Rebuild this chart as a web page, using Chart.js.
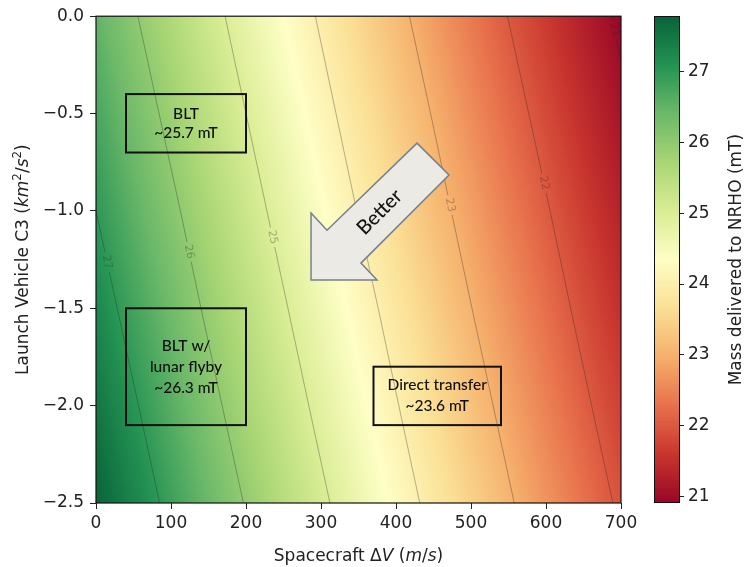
<!DOCTYPE html>
<html>
<head>
<meta charset="utf-8">
<script src="https://cdn.jsdelivr.net/npm/chart.js@4.4.1/dist/chart.umd.min.js"></script>
<style>
  html, body { margin: 0; padding: 0; background: #ffffff; }
  #wrap { width: 745px; height: 567px; }
</style>
</head>
<body>
<div id="wrap"><canvas id="c" width="745" height="567"></canvas></div>
<script>
// Spacecraft ΔV samples (m/s): grid columns
const deltaV = [0, 50, 100, 150, 200, 250, 300, 350, 400, 450, 500, 550, 600, 650, 700];
// Launch vehicle C3 samples (km^2/s^2): grid rows
const c3Values = [0, -0.5, -1.0, -1.5, -2.0, -2.5];

// Mass delivered to NRHO (mT), one list per C3 row
const massC3_0_0 = [26.50, 26.05, 25.62, 25.19, 24.76, 24.34, 23.94, 23.53, 23.14, 22.75, 22.37, 21.99, 21.63, 21.27, 20.91];
const massC3_0_5 = [26.75, 26.30, 25.86, 25.43, 25.00, 24.58, 24.16, 23.76, 23.36, 22.97, 22.58, 22.20, 21.83, 21.47, 21.11];
const massC3_1_0 = [27.00, 26.55, 26.11, 25.67, 25.24, 24.81, 24.39, 23.98, 23.58, 23.18, 22.80, 22.41, 22.04, 21.67, 21.31];
const massC3_1_5 = [27.26, 26.80, 26.36, 25.91, 25.48, 25.05, 24.63, 24.21, 23.81, 23.41, 23.01, 22.63, 22.25, 21.87, 21.51];
const massC3_2_0 = [27.52, 27.06, 26.61, 26.16, 25.72, 25.29, 24.86, 24.44, 24.03, 23.63, 23.23, 22.84, 22.46, 22.08, 21.71];
const massC3_2_5 = [27.78, 27.32, 26.86, 26.41, 25.97, 25.53, 25.10, 24.68, 24.26, 23.85, 23.45, 23.06, 22.67, 22.29, 21.92];

// Contour levels and tick labels
const contourLevels = [21, 22, 23, 24, 25, 26, 27];
const xTicks = [0, 100, 200, 300, 400, 500, 600, 700];
const yTicks = [0, -0.5, -1.0, -1.5, -2.0, -2.5];
const colorbarTicks = [21, 22, 23, 24, 25, 26, 27];

const massGrid = [massC3_0_0, massC3_0_5, massC3_1_0, massC3_1_5, massC3_2_0, massC3_2_5];
const allMass = massGrid.flat();
const vMin = Math.min(...allMass);
const vMax = Math.max(...allMass);

// RdYlGn colour map, slightly muted
const RDYLGN = ['#a50026', '#d73027', '#f46d43', '#fdae61', '#fee08b', '#ffffbf',
                '#d9ef8b', '#a6d96a', '#66bd63', '#1a9850', '#006837']
  .map(h => [parseInt(h.slice(1, 3), 16), parseInt(h.slice(3, 5), 16), parseInt(h.slice(5, 7), 16)]);
const MUTE = 0.12;

function cmap(t) {
  t = Math.max(0, Math.min(1, t));
  const s = t * (RDYLGN.length - 1);
  const i = Math.min(Math.floor(s), RDYLGN.length - 2);
  const f = s - i;
  const a = RDYLGN[i], b = RDYLGN[i + 1];
  const rgb = [a[0] + (b[0] - a[0]) * f, a[1] + (b[1] - a[1]) * f, a[2] + (b[2] - a[2]) * f];
  const lum = 0.299 * rgb[0] + 0.587 * rgb[1] + 0.114 * rgb[2];
  return rgb.map(c => c + (lum - c) * MUTE);
}

function locate(arr, v) {
  const n = arr.length;
  const asc = arr[n - 1] > arr[0];
  let i = 0;
  while (i < n - 2 && (asc ? v > arr[i + 1] : v < arr[i + 1])) i++;
  let f = (v - arr[i]) / (arr[i + 1] - arr[i]);
  return [i, Math.max(0, Math.min(1, f))];
}

// Contour path of one level: row crossings plus crossings on the left/right edges
function contourPath(level) {
  const pts = [];
  const last = deltaV.length - 1;
  for (let r = 0; r < c3Values.length; r++) {
    const row = massGrid[r];
    for (let j = 0; j < last; j++) {
      const a = row[j] - level, b = row[j + 1] - level;
      if (a * b <= 0 && row[j] !== row[j + 1]) {
        pts.push({ x: deltaV[j] + (level - row[j]) / (row[j + 1] - row[j]) * (deltaV[j + 1] - deltaV[j]), y: c3Values[r] });
        break;
      }
    }
    if (r < c3Values.length - 1) {
      for (const j of [0, last]) {
        const a = massGrid[r][j] - level, b = massGrid[r + 1][j] - level;
        if (a * b < 0) {
          pts.push({ x: deltaV[j], y: c3Values[r] + (level - massGrid[r][j]) / (massGrid[r + 1][j] - massGrid[r][j]) * (c3Values[r + 1] - c3Values[r]) });
        }
      }
    }
  }
  pts.sort((p, q) => q.y - p.y);
  return pts;
}

// Where each contour carries its inline label (C3 value along the line)
const contourLabelAt = { 21: -0.07, 22: -0.857, 23: -0.97, 24: -1.05, 25: -1.135, 26: -1.21, 27: -1.263 };
const CONTOUR_COLOR = 'rgba(35,35,35,0.33)';
const TICK_FONT = { family: 'DejaVu Sans', size: 17 };
const TEXT_COLOR = '#222222';

function computeContourLabels(chart) {
  const xs = chart.scales.x, ys = chart.scales.y;
  const ctx = chart.ctx;
  ctx.font = '11px "DejaVu Sans"';
  const out = [];
  chart.data.datasets.forEach(ds => {
    const level = ds.level;
    const target = contourLabelAt[level];
    const p = ds.data;
    for (let i = 0; i < p.length - 1; i++) {
      if ((p[i].y - target) * (p[i + 1].y - target) <= 0 && p[i].y !== p[i + 1].y) {
        const f = (target - p[i].y) / (p[i + 1].y - p[i].y);
        const x0 = xs.getPixelForValue(p[i].x), y0 = ys.getPixelForValue(p[i].y);
        const x1 = xs.getPixelForValue(p[i + 1].x), y1 = ys.getPixelForValue(p[i + 1].y);
        let ang = Math.atan2(y1 - y0, x1 - x0);
        if (ang > Math.PI / 2) ang -= Math.PI;
        if (ang <= -Math.PI / 2) ang += Math.PI;
        const text = String(level);
        out.push({ x: x0 + (x1 - x0) * f, y: y0 + (y1 - y0) * f, ang, text, w: ctx.measureText(text).width + 6, h: 10 });
        break;
      }
    }
  });
  chart.$contourLabels = out;
}

// Heat map and colour bar
const heatmapPlugin = {
  id: 'heatmap',
  beforeDatasetsDraw(chart) {
    const { ctx, chartArea: a, scales } = chart;
    const xs = scales.x, ys = scales.y, cb = scales.cb;
    const L = Math.round(a.left), T = Math.round(a.top);
    const W = Math.round(a.right) - L, H = Math.round(a.bottom) - T;
    const img = ctx.createImageData(W, H);
    const cols = [], rows = [];
    for (let i = 0; i < W; i++) cols.push(locate(deltaV, xs.getValueForPixel(L + i + 0.5)));
    for (let j = 0; j < H; j++) rows.push(locate(c3Values, ys.getValueForPixel(T + j + 0.5)));
    for (let j = 0; j < H; j++) {
      const [r, fy] = rows[j];
      const g0 = massGrid[r], g1 = massGrid[r + 1];
      for (let i = 0; i < W; i++) {
        const [c, fx] = cols[i];
        const top = g0[c] + (g0[c + 1] - g0[c]) * fx;
        const bot = g1[c] + (g1[c + 1] - g1[c]) * fx;
        const v = top + (bot - top) * fy;
        const col = cmap((v - vMin) / (vMax - vMin));
        const k = (j * W + i) * 4;
        img.data[k] = col[0]; img.data[k + 1] = col[1]; img.data[k + 2] = col[2]; img.data[k + 3] = 255;
      }
    }
    ctx.putImageData(img, L, T);

    // colour bar to the left of its axis
    const cTop = Math.round(cb.getPixelForValue(vMax));
    const cBot = Math.round(cb.getPixelForValue(vMin));
    const cRight = Math.round(cb.left), cLeft = cRight - 25;
    for (let py = cTop; py < cBot; py++) {
      const col = cmap((cb.getValueForPixel(py + 0.5) - vMin) / (vMax - vMin));
      ctx.fillStyle = `rgb(${col[0] | 0},${col[1] | 0},${col[2] | 0})`;
      ctx.fillRect(cLeft, py, 25, 1);
    }
    ctx.save();
    ctx.strokeStyle = '#111';
    ctx.lineWidth = 1;
    ctx.strokeRect(cLeft + 0.5, cTop + 0.5, 25, cBot - cTop - 1);
    ctx.restore();

    computeContourLabels(chart);
  }
};

// Break contour lines where their labels sit
const contourGapPlugin = {
  id: 'contourGaps',
  beforeDatasetDraw(chart) {
    const ctx = chart.ctx;
    ctx.save();
    ctx.beginPath();
    ctx.rect(0, 0, chart.width, chart.height);
    for (const lb of chart.$contourLabels || []) {
      const c = Math.cos(lb.ang), s = Math.sin(lb.ang);
      const hw = lb.w / 2, hh = lb.h / 2;
      const corners = [[-hw, -hh], [hw, -hh], [hw, hh], [-hw, hh]].map(([u, v]) => [lb.x + u * c - v * s, lb.y + u * s + v * c]);
      ctx.moveTo(corners[0][0], corners[0][1]);
      for (let k = 1; k < 4; k++) ctx.lineTo(corners[k][0], corners[k][1]);
      ctx.closePath();
    }
    ctx.clip('evenodd');
  },
  afterDatasetDraw(chart) {
    chart.ctx.restore();
  }
};

function drawRich(ctx, runs, size, family) {
  const parts = runs.map(r => {
    const s = r.sup ? size * 0.7 : size;
    const font = `${r.it ? 'italic ' : ''}${s}px "${family}"`;
    ctx.font = font;
    return Object.assign({}, r, { font, w: ctx.measureText(r.t).width });
  });
  const total = parts.reduce((acc, p) => acc + p.w, 0);
  let x = -total / 2;
  ctx.textAlign = 'left';
  ctx.textBaseline = 'alphabetic';
  for (const p of parts) {
    ctx.font = p.font;
    ctx.fillText(p.t, x, p.sup ? -size * 0.42 : 0);
    x += p.w;
  }
}

// Annotations: contour labels, boxes, arrow, frame and axis titles
const annotationPlugin = {
  id: 'annotations',
  afterDatasetsDraw(chart) {
    const { ctx, chartArea: a, scales } = chart;
    const xs = scales.x, ys = scales.y;
    const X = v => xs.getPixelForValue(v), Y = v => ys.getPixelForValue(v);

    ctx.save();
    // contour labels
    ctx.font = '11px "DejaVu Sans"';
    ctx.fillStyle = CONTOUR_COLOR;
    ctx.textAlign = 'center';
    ctx.textBaseline = 'middle';
    for (const lb of chart.$contourLabels || []) {
      ctx.save();
      ctx.beginPath();
      ctx.rect(a.left, a.top, a.right - a.left, a.bottom - a.top);
      ctx.clip();
      ctx.translate(lb.x, lb.y);
      ctx.rotate(lb.ang);
      ctx.fillText(lb.text, 0, 0);
      ctx.restore();
    }

    // labelled boxes
    const boxes = [
      { x0: 40, x1: 200, y0: -0.4, y1: -0.7, lines: ['BLT', '~25.7 mT'], lh: 19 },
      { x0: 40, x1: 200, y0: -1.5, y1: -2.1, lines: ['BLT w/', 'lunar flyby', '~26.3 mT'], lh: 21 },
      { x0: 370, x1: 540, y0: -1.8, y1: -2.1, lines: ['Direct transfer', '~23.6 mT'], lh: 21 }
    ];
    ctx.strokeStyle = '#111111';
    ctx.lineWidth = 2;
    ctx.fillStyle = '#0e0e0e';
    ctx.font = '500 15.5px Lato';
    ctx.textAlign = 'center';
    ctx.textBaseline = 'middle';
    for (const b of boxes) {
      const l = X(b.x0), r = X(b.x1), t = Y(b.y0), btm = Y(b.y1);
      ctx.strokeRect(l, t, r - l, btm - t);
      const cx = (l + r) / 2, cy = (t + btm) / 2;
      b.lines.forEach((s, k) => ctx.fillText(s, cx, cy + (k - (b.lines.length - 1) / 2) * b.lh));
    }

    // "Better" arrow
    const arrow = [[286.7, -1.011], [308, -1.099], [428, -0.652], [470.7, -0.816], [353.3, -1.268], [374.7, -1.355], [286.7, -1.355]];
    ctx.beginPath();
    arrow.forEach(([vx, vy], k) => (k ? ctx.lineTo(X(vx), Y(vy)) : ctx.moveTo(X(vx), Y(vy))));
    ctx.closePath();
    ctx.fillStyle = '#ebeae5';
    ctx.fill();
    ctx.strokeStyle = '#76818c';
    ctx.lineWidth = 1.5;
    ctx.lineJoin = 'miter';
    ctx.stroke();
    ctx.save();
    ctx.translate(X(378), Y(-1.006));
    ctx.rotate(-Math.PI / 4);
    ctx.fillStyle = '#141414';
    ctx.font = '500 20px Lato';
    ctx.textAlign = 'center';
    ctx.textBaseline = 'middle';
    ctx.fillText('Better', 0, 0);
    ctx.restore();

    // plot frame
    ctx.strokeStyle = '#111';
    ctx.lineWidth = 1.2;
    ctx.strokeRect(a.left, a.top, a.right - a.left, a.bottom - a.top);
    ctx.restore();
  },
  afterDraw(chart) {
    const { ctx, chartArea: a } = chart;
    ctx.save();
    ctx.fillStyle = TEXT_COLOR;
    // x-axis title
    ctx.save();
    ctx.translate((a.left + a.right) / 2, 561);
    drawRich(ctx, [{ t: 'Spacecraft ' }, { t: '\u0394' }, { t: 'V', it: true }, { t: ' (' }, { t: 'm', it: true }, { t: '/' }, { t: 's', it: true }, { t: ')' }], 17, 'DejaVu Sans');
    ctx.restore();
    // y-axis title
    ctx.save();
    ctx.translate(28, (a.top + a.bottom) / 2);
    ctx.rotate(-Math.PI / 2);
    drawRich(ctx, [{ t: 'Launch Vehicle C3 (' }, { t: 'km', it: true }, { t: '2', sup: true }, { t: '/' }, { t: 's', it: true }, { t: '2', sup: true }, { t: ')' }], 17, 'DejaVu Sans');
    ctx.restore();
    // colour bar title
    ctx.save();
    ctx.translate(741, (a.top + a.bottom) / 2);
    ctx.rotate(-Math.PI / 2);
    drawRich(ctx, [{ t: 'Mass delivered to NRHO (mT)' }], 17, 'DejaVu Sans');
    ctx.restore();
    ctx.restore();
  }
};

const fmtC3 = v => (v < 0 ? '\u2212' : '') + Math.abs(v).toFixed(1);

new Chart(document.getElementById('c'), {
  type: 'scatter',
  data: {
    datasets: contourLevels.map(level => ({
      label: String(level),
      level,
      data: contourPath(level),
      showLine: true,
      pointRadius: 0,
      borderWidth: 1,
      borderColor: CONTOUR_COLOR,
      tension: 0,
      xAxisID: 'x',
      yAxisID: 'y'
    }))
  },
  options: {
    responsive: false,
    animation: false,
    devicePixelRatio: 1,
    events: [],
    layout: { padding: { top: 16, left: 0, right: 0, bottom: 0 } },
    plugins: { legend: { display: false }, tooltip: { enabled: false } },
    scales: {
      x: {
        type: 'linear', position: 'bottom', min: 0, max: 700,
        afterBuildTicks: s => { s.ticks = xTicks.map(v => ({ value: v })); },
        afterFit: s => { s.height = 64; },
        grid: { drawOnChartArea: false, drawTicks: true, tickLength: 6, color: '#222', lineWidth: 1 },
        border: { display: false },
        ticks: { font: TICK_FONT, color: TEXT_COLOR, padding: 4, maxRotation: 0, autoSkip: false, callback: v => String(v) }
      },
      y: {
        type: 'linear', position: 'left', min: -2.5, max: 0,
        afterBuildTicks: s => { s.ticks = yTicks.map(v => ({ value: v })); },
        afterFit: s => { s.width = 96; },
        grid: { drawOnChartArea: false, drawTicks: true, tickLength: 6, color: '#222', lineWidth: 1 },
        border: { display: false },
        ticks: { font: TICK_FONT, color: TEXT_COLOR, padding: 6, autoSkip: false, callback: fmtC3 }
      },
      gap: {
        type: 'linear', position: 'right', axis: 'y', weight: 0,
        afterFit: s => { s.width = 58; },
        grid: { display: false }, border: { display: false }, ticks: { display: false }
      },
      cb: {
        type: 'linear', position: 'right', axis: 'y', weight: 1, min: vMin, max: vMax,
        afterBuildTicks: s => { s.ticks = colorbarTicks.map(v => ({ value: v })); },
        afterFit: s => { s.width = 66; },
        grid: { drawOnChartArea: false, drawTicks: true, tickLength: 5, color: '#222', lineWidth: 1 },
        border: { display: false },
        ticks: { font: TICK_FONT, color: TEXT_COLOR, padding: 4, autoSkip: false, callback: v => String(v) }
      }
    }
  },
  plugins: [heatmapPlugin, contourGapPlugin, annotationPlugin]
});
</script>
</body>
</html>
